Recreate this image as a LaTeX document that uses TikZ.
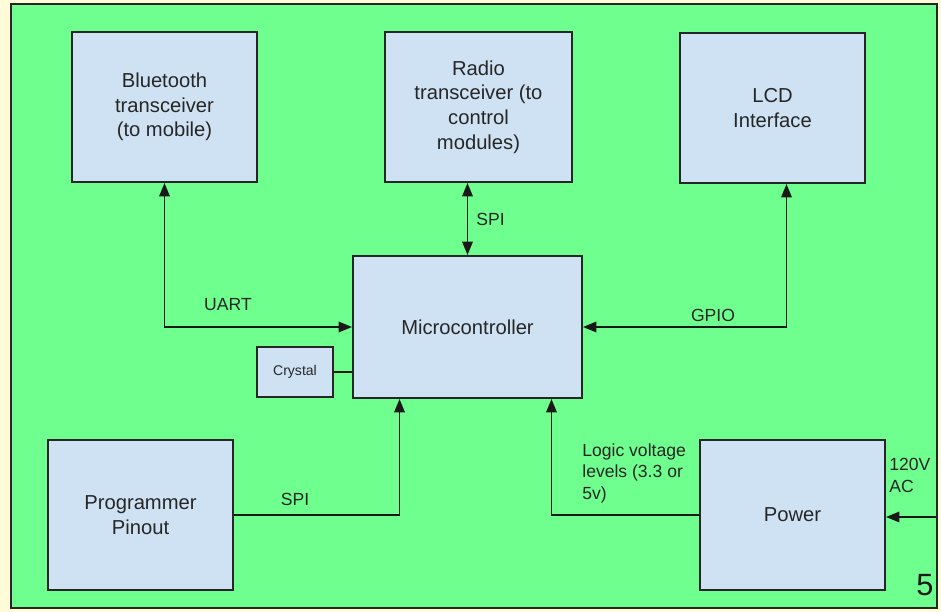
\documentclass[tikz,border=0pt]{standalone}
\usepackage{fontspec}
\setmainfont{Liberation Sans}
\usetikzlibrary{arrows.meta,positioning,calc}
\definecolor{Slide}{HTML}{FFFAD7}
\definecolor{Board}{HTML}{6EFF8F}
\definecolor{Block}{HTML}{CFE2F3}

\begin{document}
\begin{tikzpicture}[x=0.02cm,y=-0.02cm,>={Triangle[length=2.7mm,width=2.1mm]},
  block/.style={draw=black!85,line width=1.1pt,fill=Block,align=center,minimum width=3.7cm,minimum height=3cm,font=\fontsize{11.5}{14}\selectfont,text=black!85},
  wire/.style={line width=1.1pt,draw=black!90},
  lbl/.style={font=\fontsize{10}{12.3}\selectfont,align=left,text=black!85,inner sep=0pt}]
  \useasboundingbox[fill=Slide] (0,0) rectangle (941,612);
  % board
  \draw[fill=Board,line width=1.1pt,draw=black!85] (11,4) rectangle (937,608);
  % blocks
  \node[block] (bt) at (164.5,107) {Bluetooth\\transceiver\\(to mobile)};
  \node[block,minimum width=3.74cm] (radio) at (478.5,107) {Radio\\transceiver (to\\control\\modules)};
  \node[block] (lcd) at (772.5,108) {LCD\\Interface};
  \node[block,minimum width=4.58cm,minimum height=2.84cm] (mcu) at (467.5,327) {Microcontroller};
  \node[block,minimum width=1.52cm,minimum height=1cm,font=\fontsize{8}{10}\selectfont] (xtal) at (295,372) {Crystal};
  \node[block] (prog) at (140.5,515) {Programmer\\Pinout};
  \node[block] (pwr) at (792.5,515) {Power};
  \coordinate (ac) at (936,517);
  % links
  \draw[wire,<->] (bt.south) |- (mcu.west);
  \draw[wire,<->] (mcu.north) -- (mcu.north |- radio.south);
  \draw[wire,<->] (mcu.east) -| ([xshift=0.28cm]lcd.south);
  \draw[wire] (xtal.east) -- (xtal.east -| mcu.west);
  \draw[wire,->] (prog.east) -| ([xshift=-1.36cm]mcu.south);
  \draw[wire,->] (pwr.west) -| ([xshift=1.68cm]mcu.south);
  \draw[wire,->] (ac) -- (ac -| pwr.east);
  % labels
  \node[lbl] (uart) at (228,305) {UART};
  \node[lbl,anchor=west] (spi1) at (476,219) {SPI};
  \node[lbl] (gpio) at (713,315) {GPIO};
  \node[lbl] (spi2) at (295,499) {SPI};
  \node[lbl,anchor=north west] (logic) at (582,443) {Logic voltage\\levels (3.3 or\\5v)};
  \node[lbl,anchor=north west] (acl) at (889,458) {120V\\AC};
  \node[font=\fontsize{17.5}{20}\selectfont,text=black!90] (num) at (925,585) {5};
\end{tikzpicture}
\end{document}
